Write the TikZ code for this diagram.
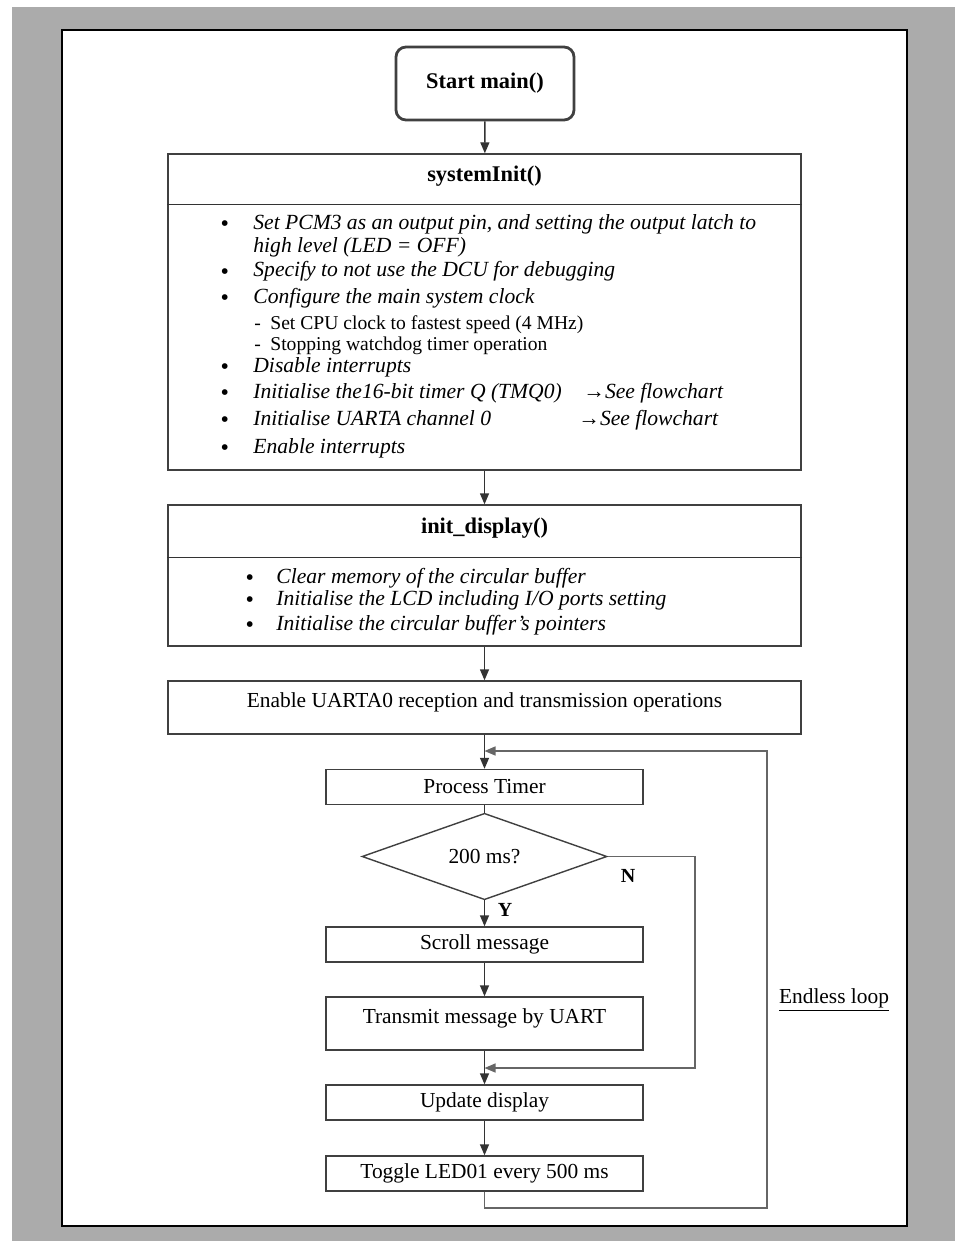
\documentclass[tikz,border=0pt]{standalone}
\usepackage{fontspec}
\setmainfont{Liberation Serif}
\usetikzlibrary{arrows.meta,shapes.geometric}

\newcommand{\bul}[1][16.5pt]{\makebox[#1][l]{\raisebox{-1.4pt}{\fontsize{12}{12}\selectfont\textbullet}}}

\begin{document}
\begin{tikzpicture}[x=0.5pt,y=-0.5pt,>={Triangle[length=5.5pt,width=4.5pt]},
  every node/.style={font=\fontsize{10.7}{12}\selectfont},
  box/.style={draw=black!75,line width=0.7pt,inner sep=0pt},
  procbox/.style={box,minimum width=158.5pt,minimum height=17.5pt},
  bigbox/.style={box,minimum width=316.5pt},
  title/.style={font=\fontsize{11.2}{13}\selectfont\bfseries},
  item/.style={anchor=base west,inner sep=0pt,text height=7pt,text depth=2pt,font=\fontsize{10.8}{12}\selectfont\itshape},
  subitem/.style={anchor=base west,inner sep=0pt,text height=6.5pt,text depth=2pt,font=\fontsize{9.8}{11}\selectfont},
  uptext/.style={text depth=7.5pt},
  flow/.style={draw=black!80,line width=0.7pt},
  loopline/.style={draw=black!60,line width=0.7pt}]
\useasboundingbox (0,0) rectangle (955,1241);
% page
\fill[white] (0,0) rectangle (955,1241);
\fill[black!33] (12,7) rectangle (955,1241);
\draw[fill=white,line width=1pt] (62,30) rectangle (907,1226);
% start
\node[box,line width=1.4pt,rounded corners=5pt,minimum width=89pt,minimum height=36.5pt,title] (start) at (485,83.5) {Start main()};
% systemInit()
\node[bigbox,minimum height=158pt] (sys) at (484.5,312) {};
\node[title] (systitle) at (484.5,176) {systemInit()};
\draw[flow] ([yshift=-25.5pt]sys.north west) -- ([yshift=-25.5pt]sys.north east);
\node[item] (s1) at (220,229) {\bul Set PCM3 as an output pin, and setting the output latch to};
\node[item] (s1b) at (253,253) {high level (LED = OFF)};
\node[item] (s2) at (220,277) {\bul Specify to not use the DCU for debugging};
\node[item] (s3) at (220,303) {\bul Configure the main system clock};
\node[subitem] (s3a) at (254,329) {\makebox[8pt][l]{-}Set CPU clock to fastest speed (4 MHz)};
\node[subitem] (s3b) at (254,350) {\makebox[8pt][l]{-}Stopping watchdog timer operation};
\node[item] (s4) at (220,372) {\bul Disable interrupts};
\node[item] (s5) at (220,398) {\bul Initialise the16-bit timer Q (TMQ0)};
\node[item] (s5f) at (583,398) {→See flowchart};
\node[item] (s6) at (220,425) {\bul Initialise UARTA channel 0};
\node[item] (s6f) at (578,425) {→See flowchart};
\node[item] (s7) at (220,453) {\bul Enable interrupts};
% init_display()
\node[bigbox,minimum height=70.5pt] (disp) at (484.5,575.5) {};
\node[title] (disptitle) at (484.5,528) {init\_display()};
\draw[flow] ([yshift=-26.5pt]disp.north west) -- ([yshift=-26.5pt]disp.north east);
\node[item] (d1) at (245,583) {\bul[15.5pt]Clear memory of the circular buffer};
\node[item] (d2) at (245,605) {\bul[15.5pt]Initialise the LCD including I/O ports setting};
\node[item] (d3) at (245,630) {\bul[15.5pt]Initialise the circular buffer's pointers};
% main loop
\node[bigbox,minimum height=26.5pt,uptext] (uart) at (484.5,707.5) {Enable UARTA0 reception and transmission operations};
\node[procbox] (timer) at (484.5,787) {Process Timer};
\node[box,diamond,minimum width=122.5pt,minimum height=34.5pt] (dec) at (484.5,856.5) {200 ms?};
\node[procbox] (scroll) at (484.5,944.5) {Scroll message};
\node[procbox,minimum height=26.5pt,uptext] (uartmsg) at (484.5,1023.5) {Transmit message by UART};
\node[procbox] (update) at (484.5,1102.5) {Update display};
\node[procbox] (toggle) at (484.5,1173.5) {Toggle LED01 every 500 ms};
\coordinate (jtop) at (484.5,751);
\coordinate (jmid) at (484.5,1068);
\coordinate (nright) at (695,1068);
\coordinate (lright) at (767,1208);
\node[font=\fontsize{10}{12}\selectfont\bfseries] (ylab) at (505,910) {Y};
\node[font=\fontsize{10}{12}\selectfont\bfseries] (nlab) at (628,876) {N};
\node (endless) at (834,1000) {\underline{Endless loop}};
% connectors
\draw[flow,->] (start) -- (sys);
\draw[flow,->] (sys) -- (disp);
\draw[flow,->] (disp) -- (uart);
\draw[flow,->] (uart) -- (timer);
\draw[flow] (timer) -- (dec);
\draw[flow,->] (dec) -- (scroll);
\draw[flow,->] (scroll) -- (uartmsg);
\draw[flow,->] (uartmsg) -- (update);
\draw[flow,->] (update) -- (toggle);
\draw[loopline,->] (dec.east) -| (nright) -- (jmid);
\draw[loopline,->] (toggle.south) |- (lright) |- (jtop);
\end{tikzpicture}
\end{document}
